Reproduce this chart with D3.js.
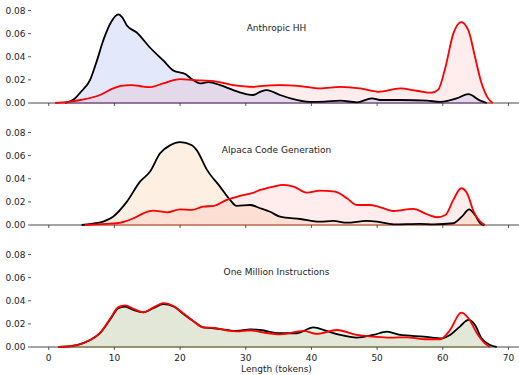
<!DOCTYPE html>
<html>
<head>
<meta charset="utf-8">
<script src="https://cdn.jsdelivr.net/npm/d3@7"></script>
<style>
  body { margin: 0; background: #fff; }
  text { font-family: "DejaVu Sans", sans-serif; fill: #222; }
</style>
</head>
<body>
<svg id="chart" width="519" height="375"></svg>
<script>
// [tokens, density]
const hhBlack = [[2.5,0],[4,0.004],[4.8,0.009],[6.3,0.02],[7.3,0.036],[8.3,0.054],[9.5,0.07],[10.6,0.0766],[11.2,0.074],[11.9,0.067],[13.4,0.061],[15.4,0.048],[17.4,0.037],[19,0.028],[20.8,0.025],[22,0.0198],[23,0.017],[24.3,0.018],[26.1,0.0155],[28.1,0.0112],[30.2,0.0075],[31.1,0.0069],[32.2,0.0097],[33.2,0.0112],[35.2,0.0069],[36.8,0.004],[39.8,0.001],[42,0.0012],[44.4,0.002],[46.9,0.0006],[49.2,0.004],[50.5,0.0026],[53.5,0.0026],[57.6,0.002],[59.6,0.001],[62.1,0.004],[63.9,0.0077],[65.7,0.002],[66.7,0]];
const hhRed = [[1,0],[3,0.001],[4.8,0.0026],[7.8,0.0069],[9.8,0.0126],[11,0.0148],[12.6,0.0155],[14,0.0145],[15.4,0.0137],[17.4,0.017],[20,0.0206],[22,0.0198],[25,0.019],[28.1,0.0155],[31.2,0.014],[32.2,0.0146],[35.2,0.0155],[38.3,0.0146],[41.3,0.0126],[44.4,0.014],[47.4,0.0126],[50.2,0.0097],[53.5,0.0126],[56,0.0106],[58.3,0.0089],[59.3,0.0115],[60.4,0.031],[61.6,0.06],[62.8,0.07],[63.9,0.0628],[64.9,0.04],[65.9,0.017],[66.9,0.004],[67.6,0]];

const alpBlack = [[5,0],[6.5,0.001],[8.3,0.003],[9.8,0.0072],[11.9,0.0202],[13.9,0.0375],[15.4,0.046],[16.95,0.062],[18.5,0.069],[20,0.0717],[21.8,0.069],[22.5,0.065],[24.1,0.0477],[26.1,0.033],[27.6,0.0217],[28.6,0.0165],[30.7,0.0173],[32.2,0.0145],[33.7,0.0115],[35.2,0.0072],[38.3,0.0052],[41.3,0.0029],[43.3,0.0035],[45.4,0.002],[48.4,0.0035],[50,0.0029],[52.5,0.0006],[56.5,0.001],[58.6,0.0006],[61.6,0.0015],[62.9,0.0072],[64,0.0136],[64.9,0.0087],[65.7,0.0015],[66.3,0]];
const alpRed = [[5.5,0],[8,0.0008],[10.4,0.0015],[12.9,0.0058],[14.4,0.0101],[15.9,0.0124],[18,0.011],[20,0.0136],[21.8,0.013],[23.5,0.0159],[25.1,0.0165],[27.1,0.0217],[29.1,0.0251],[31.2,0.028],[32.2,0.0303],[34.2,0.0332],[35.7,0.0347],[37.3,0.0332],[39.3,0.028],[41.3,0.0297],[43.6,0.0289],[45.4,0.0231],[46.9,0.0173],[48.9,0.0173],[50.5,0.0153],[52.5,0.0121],[55.5,0.0139],[57.6,0.0093],[59.1,0.0067],[60.4,0.0087],[61.6,0.0217],[62.8,0.0318],[63.7,0.0275],[64.7,0.0115],[65.7,0.0029],[66.4,0]];

const omiBlack = [[1.5,0],[4.3,0.0017],[6.3,0.006],[7.8,0.0119],[9.3,0.0234],[10.6,0.0335],[11.6,0.035],[12.9,0.032],[14.4,0.03],[15.9,0.0335],[17.45,0.037],[19,0.035],[20.5,0.0286],[22,0.0225],[23.5,0.017],[25.1,0.0162],[27.1,0.0147],[28.6,0.0139],[30.7,0.0153],[32.2,0.0147],[35.2,0.0119],[37.8,0.0119],[40.3,0.017],[42.3,0.0139],[44.4,0.0104],[46.9,0.0081],[49.4,0.0104],[51.5,0.0133],[53.5,0.0104],[57.1,0.009],[59.9,0.0075],[61.1,0.0104],[62.6,0.0176],[63.9,0.0234],[64.9,0.019],[65.9,0.0075],[67.2,0.0017],[68.2,0]];
const omiRed = [[1.5,0],[4.3,0.0017],[6.3,0.006],[7.8,0.012],[9.3,0.024],[10.6,0.0345],[11.6,0.036],[12.9,0.033],[14.4,0.03],[15.9,0.034],[17.45,0.038],[19,0.0355],[20.5,0.029],[22,0.0225],[23.5,0.017],[25.1,0.0165],[27.1,0.0145],[28.6,0.0135],[30.7,0.0145],[32.2,0.013],[35.2,0.011],[38.8,0.0139],[40.8,0.0113],[43.9,0.0147],[46.9,0.0104],[49.4,0.009],[52,0.0081],[54.5,0.0084],[57.6,0.0067],[59.6,0.0067],[61.1,0.0147],[62.8,0.0297],[63.9,0.0249],[65.2,0.0119],[66.4,0.0032],[67.2,0]];

const titles = ["Anthropic HH", "Alpaca Code Generation", "One Million Instructions"];
const xTicks = [0, 10, 20, 30, 40, 50, 60, 70];
const yTicks = [0, 0.02, 0.04, 0.06, 0.08];

const panels = [
    {title: titles[0], black: hhBlack, red: hhRed, fill: "#4169e1", fillOp: 0.15},
    {title: titles[1], black: alpBlack, red: alpRed, fill: "#f4a460", fillOp: 0.18},
    {title: titles[2], black: omiBlack, red: omiRed, fill: "#3ec864", fillOp: 0.15}
];

const svg = d3.select("#chart");
const left = 31, right = 519;
const baseY = [103, 225, 347];
const panelH = 92.5;
const fontSize = "9px";

const x = d3.scaleLinear().domain([-2.7, 71.6]).range([left, right]);

panels.forEach((p, i) => {
    const y = d3.scaleLinear().domain([0, 0.08]).range([baseY[i], baseY[i] - panelH]);
    const g = svg.append("g");

    const area = d3.area().x(d => x(d[0])).y0(y(0)).y1(d => y(d[1])).curve(d3.curveMonotoneX);
    const line = d3.line().x(d => x(d[0])).y(d => y(d[1])).curve(d3.curveMonotoneX);

    // spine
    g.append("line")
        .attr("x1", left).attr("x2", right)
        .attr("y1", baseY[i]).attr("y2", baseY[i])
        .attr("stroke", "#333").attr("stroke-width", 0.9);

    // red fill underneath, coloured fill on top
    g.append("path").datum(p.red).attr("d", area)
        .attr("fill", "#ff0000").attr("fill-opacity", 0.07)
        .attr("stroke", "#ff0000").attr("stroke-opacity", 0.45).attr("stroke-width", 1);
    g.append("path").datum(p.black).attr("d", area)
        .attr("fill", p.fill).attr("fill-opacity", p.fillOp)
        .attr("stroke", p.fill).attr("stroke-opacity", 0.5).attr("stroke-width", 1);

    g.append("path").datum(p.black).attr("d", line)
        .attr("fill", "none").attr("stroke", "#000").attr("stroke-width", 1.8);
    g.append("path").datum(p.red).attr("d", line)
        .attr("fill", "none").attr("stroke", "#ff0000").attr("stroke-width", 1.8);

    // y ticks
    yTicks.forEach(t => {
        g.append("line")
            .attr("x1", left - 3).attr("x2", left)
            .attr("y1", y(t)).attr("y2", y(t))
            .attr("stroke", "#333").attr("stroke-width", 0.8);
        g.append("text")
            .attr("x", left - 5.5).attr("y", y(t))
            .attr("dy", "0.35em")
            .attr("text-anchor", "end")
            .style("font-size", fontSize)
            .text(d3.format(".2f")(t));
    });

    // x ticks, labels only on the bottom panel
    xTicks.forEach(t => {
        g.append("line")
            .attr("x1", x(t)).attr("x2", x(t))
            .attr("y1", baseY[i]).attr("y2", baseY[i] + 3)
            .attr("stroke", "#333").attr("stroke-width", 0.8);
        if (i === 2) {
            g.append("text")
                .attr("x", x(t)).attr("y", baseY[i] + 14)
                .attr("text-anchor", "middle")
                .style("font-size", fontSize)
                .text(t);
        }
    });

    g.append("text")
        .attr("x", (left + right) / 2 + 1.5).attr("y", baseY[i] - 72)
        .attr("text-anchor", "middle")
        .style("font-size", fontSize)
        .text(p.title);
});

svg.append("text")
    .attr("x", (left + right) / 2 + 1.5).attr("y", 371.5)
    .attr("text-anchor", "middle")
    .style("font-size", fontSize)
    .text("Length (tokens)");
</script>
</body>
</html>
